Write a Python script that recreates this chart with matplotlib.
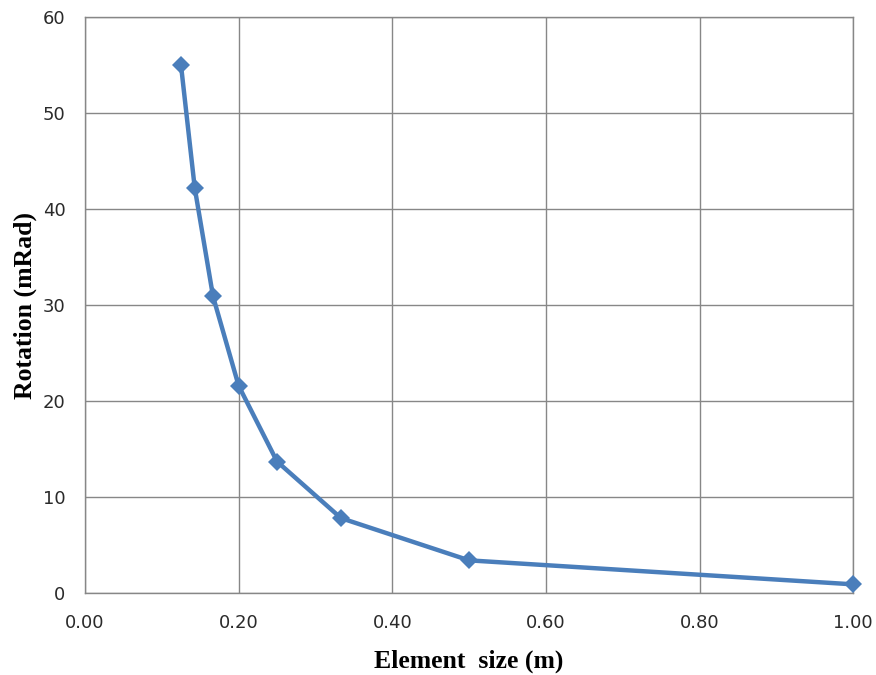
import matplotlib
matplotlib.use('Agg')
import matplotlib.pyplot as plt
from matplotlib.ticker import FormatStrFormatter

# element size (m) vs rotation (mRad)
element_size = [0.125, 0.1429, 0.1667, 0.2, 0.25, 0.3333, 0.5, 1.0]
rotation = [55.0, 42.2, 30.9, 21.6, 13.7, 7.8, 3.4, 0.9]

x_ticks = [0.0, 0.2, 0.4, 0.6, 0.8, 1.0]
y_ticks = [0, 10, 20, 30, 40, 50, 60]

fig = plt.figure(figsize=(8.76, 6.75), dpi=100)
ax = fig.add_axes([0.097, 0.1215, 0.877, 0.853])

ax.plot(element_size, rotation, color='#4a7ebb', linewidth=3.2,
        marker='D', markersize=9, markeredgewidth=0, zorder=3, clip_on=False)

ax.set_xlim(0, 1.0)
ax.set_ylim(0, 60)
ax.set_xticks(x_ticks)
ax.set_yticks(y_ticks)
ax.xaxis.set_major_formatter(FormatStrFormatter('%.2f'))
ax.grid(True, color='#878787', linewidth=1.0)
ax.set_axisbelow(True)
ax.tick_params(length=0, labelsize=13, colors='#2a2a2a')
ax.tick_params(axis='x', pad=15)
ax.tick_params(axis='y', pad=14)
for s in ax.spines.values():
    s.set_color('#878787')
    s.set_linewidth(1.0)

ax.set_xlabel('Element  size (m)', family='Liberation Serif', fontweight='bold',
              fontsize=18.5, labelpad=13)
ax.set_ylabel('Rotation (mRad)', family='Liberation Serif', fontweight='bold',
              fontsize=18.5, labelpad=4)

fig.savefig('out.png', dpi=100)
